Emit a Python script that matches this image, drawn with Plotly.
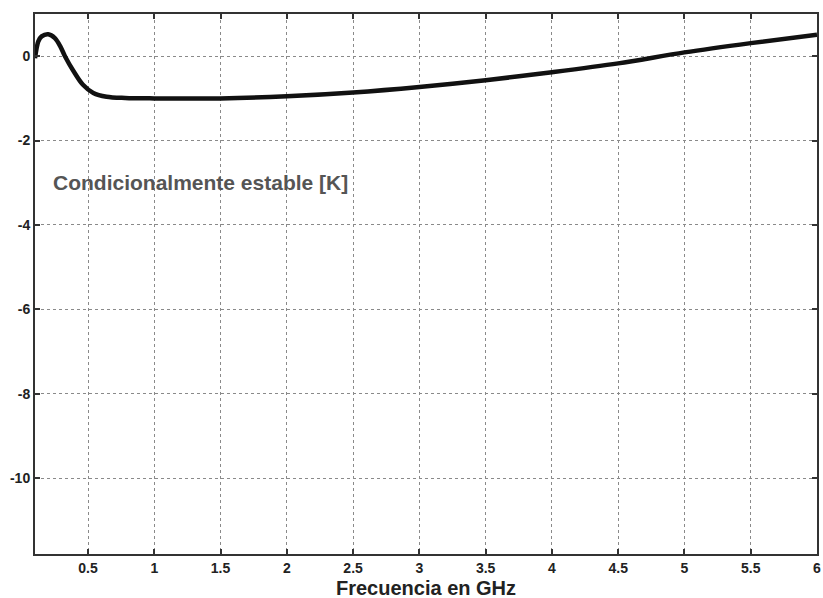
import plotly.graph_objects as go

freq_ghz = [0.1, 0.125, 0.15, 0.2, 0.25, 0.29, 0.326, 0.39, 0.46, 0.54, 0.64, 0.78,
            1.0, 1.5, 2.0, 2.5, 3.0, 3.5, 4.0, 4.5, 5.0, 5.5, 6.0]
k_values = [-0.05, 0.35, 0.47, 0.52, 0.43, 0.24, 0.0, -0.35, -0.67, -0.87, -0.96, -0.99,
            -1.0, -1.0, -0.95, -0.86, -0.73, -0.57, -0.38, -0.17, 0.09, 0.31, 0.51]

x_ticks = [0.5, 1, 1.5, 2, 2.5, 3, 3.5, 4, 4.5, 5, 5.5, 6]
x_tick_labels = ["0.5", "1", "1.5", "2", "2.5", "3", "3.5", "4", "4.5", "5", "5.5", "6"]
y_ticks = [0, -2, -4, -6, -8, -10]
y_tick_labels = ["0", "-2", "-4", "-6", "-8", "-10"]

fig = go.Figure()
fig.add_trace(go.Scatter(x=freq_ghz, y=k_values, mode="lines",
                         line=dict(color="#111111", width=4.5, shape="spline", smoothing=0.9),
                         showlegend=False))

axis_common = dict(showline=True, linecolor="#333333", linewidth=2, mirror="allticks",
                   ticks="inside", ticklen=5, tickwidth=2, tickcolor="#333333",
                   showgrid=True, gridcolor="#8a8a8a", gridwidth=1, griddash="dot",
                   zeroline=False, automargin=False,
                   tickfont=dict(family="Liberation Sans", size=14, color="#222222", weight="bold"))

fig.update_xaxes(range=[0.1, 6], tickvals=x_ticks, ticktext=x_tick_labels, **axis_common)
fig.update_yaxes(range=[-11.8, 1], tickvals=y_ticks, ticktext=y_tick_labels, **axis_common)

# x-axis title placed just below the tick labels
fig.add_annotation(x=0.5, y=-0.0625, xref="paper", yref="paper", text="Frecuencia en GHz",
                   showarrow=False, xanchor="center", yanchor="middle",
                   font=dict(family="Liberation Sans", size=20, color="#222222", weight="bold"))

fig.add_annotation(x=0.22, y=-3.0, xref="x", yref="y", text="Condicionalmente estable [K]",
                   showarrow=False, xanchor="left", yanchor="middle",
                   font=dict(family="Liberation Sans", size=21, color="#555555", weight="bold"))

fig.update_layout(width=823, height=598, margin=dict(l=35, r=6, t=14, b=44),
                  paper_bgcolor="white", plot_bgcolor="white")

fig.write_html("out.html")
